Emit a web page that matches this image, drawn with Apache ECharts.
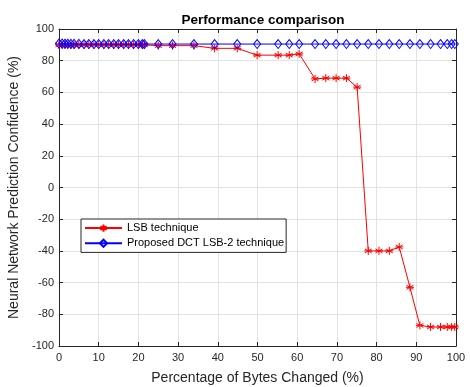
<!DOCTYPE html>
<html><head><meta charset="utf-8">
<script src="https://cdn.jsdelivr.net/npm/echarts@6/dist/echarts.min.js"></script>
<style>html,body{margin:0;padding:0;background:#fff}#c{width:470px;height:387px}</style>
</head><body><div id="c"></div>
<script>
const xValues = [0, 0.8, 1.5, 2.2, 3, 3.8, 5, 6.3, 7.5, 8.8, 10, 11.3, 12.5, 13.8, 15, 16.3, 17.5, 18.8, 20, 21, 21.5, 25, 28.6, 34, 39.2, 44.9, 49.9, 55.2, 58, 60.5, 64.5, 67.2, 69.8, 72.4, 75.1, 77.9, 80.6, 83.2, 85.7, 88.4, 90.9, 93.6, 96.1, 97.8, 98.9, 99.7];
const lsbValues = [90, 90, 90, 90, 90, 90, 90, 90, 90, 90, 90, 90, 90, 90, 90, 90, 90, 90, 90, 90, 90, 89.5, 89.5, 89.5, 87.8, 87.8, 83.5, 83.5, 83.5, 84.3, 68.5, 69, 69, 69, 63.3, -40, -40, -40, -37.5, -63, -87, -88, -88, -88, -88, -88];
const dctValues = [90.8, 90.8, 90.7, 90.7, 90.6, 90.6, 90.6, 90.5, 90.5, 90.5, 90.5, 90.5, 90.5, 90.5, 90.5, 90.5, 90.5, 90.5, 90.5, 90.5, 90.5, 90.5, 90.5, 90.5, 90.5, 90.5, 90.5, 90.5, 90.5, 90.5, 90.5, 90.5, 90.5, 90.5, 90.5, 90.5, 90.5, 90.5, 90.5, 90.5, 90.5, 90.5, 90.5, 90.5, 90.5, 90.5];
const xTicks = [0, 10, 20, 30, 40, 50, 60, 70, 80, 90, 100];
const yTicks = [-100, -80, -60, -40, -20, 0, 20, 40, 60, 80, 100];
const seriesNames = ['LSB technique', 'Proposed DCT LSB-2 technique'];
const titleText = 'Performance comparison';
const xLabel = 'Percentage of Bytes Changed (%)';
const yLabel = 'Neural Network Prediction Confidence (%)';

const font = 'Liberation Sans, Arial, Helvetica, sans-serif';
const axisCol = '#262626';
const star = 'path://M0,-5L0,5M-4.33,-2.5L4.33,2.5M-4.33,2.5L4.33,-2.5M-5,0L5,0';
const pair = (ys) => xValues.map((x, i) => [x, ys[i]]);

const chart = echarts.init(document.getElementById('c'), null, {renderer: 'canvas'});
const baseX = {
  type: 'value', min: xTicks[0], max: xTicks[xTicks.length - 1], interval: xTicks[1] - xTicks[0],
  axisLine: {show: true, onZero: false, lineStyle: {color: axisCol, width: 1}},
  axisTick: {show: true, inside: true, length: 4, lineStyle: {color: axisCol}},
};
const baseY = {
  type: 'value', min: yTicks[0], max: yTicks[yTicks.length - 1], interval: yTicks[1] - yTicks[0],
  axisLine: {show: true, onZero: false, lineStyle: {color: axisCol, width: 1}},
  axisTick: {show: true, inside: true, length: 4, lineStyle: {color: axisCol}},
};
chart.setOption({
  animation: false,
  backgroundColor: '#fff',
  title: {text: titleText, left: 258, textAlign: 'center', top: 8,
    textStyle: {fontFamily: font, fontSize: 13.5, fontWeight: 'bold', color: '#000'}},
  grid: {left: 59, right: 14, top: 29, bottom: 41, containLabel: false, outerBoundsMode: 'none'},
  legend: {
    orient: 'vertical', left: 81, top: 219,
    data: seriesNames,
    backgroundColor: '#fff', borderColor: axisCol, borderWidth: 1,
    padding: [3, 2, 3, 3], itemGap: 3, itemWidth: 37, itemHeight: 9,
    textStyle: {fontFamily: font, fontSize: 11, color: '#000'}
  },
  xAxis: [
    Object.assign({}, baseX, {
      position: 'bottom',
      axisLabel: {show: true, color: axisCol, fontFamily: font, fontSize: 11, margin: 6},
      splitLine: {show: true, lineStyle: {color: '#e3e3e3', width: 1}},
      name: xLabel, nameLocation: 'middle', nameGap: 25,
      nameTextStyle: {fontFamily: font, fontSize: 14, color: axisCol}
    }),
    Object.assign({}, baseX, {position: 'top', axisLabel: {show: false}, splitLine: {show: false}})
  ],
  yAxis: [
    Object.assign({}, baseY, {
      position: 'left',
      axisLabel: {show: true, color: axisCol, fontFamily: font, fontSize: 11, margin: 5},
      splitLine: {show: true, lineStyle: {color: '#e3e3e3', width: 1}},
      name: yLabel, nameLocation: 'middle', nameGap: 30,
      nameTextStyle: {fontFamily: font, fontSize: 14, color: axisCol}
    }),
    Object.assign({}, baseY, {position: 'right', axisLabel: {show: false}, splitLine: {show: false}})
  ],
  series: [
    {
      name: seriesNames[0], type: 'line', data: pair(lsbValues),
      symbol: star, symbolSize: [8, 8], showSymbol: true,
      lineStyle: {color: '#ff0000', width: 1},
      itemStyle: {color: 'none', borderColor: '#ff0000', borderWidth: 1},
      z: 3
    },
    {
      name: seriesNames[1], type: 'line', data: pair(dctValues),
      symbol: 'diamond', symbolSize: [7, 9], showSymbol: true,
      lineStyle: {color: '#0000ff', width: 1},
      itemStyle: {color: 'none', borderColor: '#0000ff', borderWidth: 1},
      z: 4
    }
  ]
});
</script></body></html>
